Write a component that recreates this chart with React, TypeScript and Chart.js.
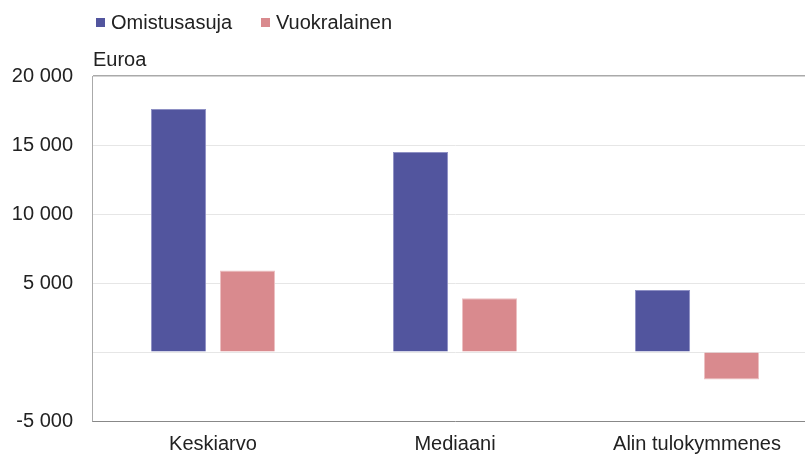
import React, { useEffect, useRef } from "react";
import { Chart, registerables } from "chart.js";

Chart.register(...registerables);

const categories = ["Keskiarvo", "Mediaani", "Alin tulokymmenes"];
const seriesNames = ["Omistusasuja", "Vuokralainen"];
const omistusasuja = [17600, 14500, 4500];
const vuokralainen = [5900, 3900, -2000];
const yTicks = [20000, 15000, 10000, 5000, 0, -5000];
const yUnit = "Euroa";
const colors = ["#52559e", "#d98a8e"];

const FONT = "'Liberation Sans', Arial, sans-serif";
const FS = 20;

function fmt(v: number): string {
  if (v === 0) return "";
  const s = String(Math.abs(v)).replace(/\B(?=(\d{3})+(?!\d))/g, " ");
  return (v < 0 ? "-" : "") + s;
}

const unitPlugin = {
  id: "unitLabel",
  afterDraw(chart: any) {
    const { ctx, chartArea } = chart;
    ctx.save();
    ctx.font = `${FS}px ${FONT}`;
    ctx.fillStyle = "#222";
    ctx.textAlign = "left";
    ctx.textBaseline = "middle";
    ctx.fillText(yUnit, chartArea.left + 1, chartArea.top - 16);
    ctx.restore();
  },
};

export default function App() {
  const ref = useRef<HTMLCanvasElement | null>(null);
  useEffect(() => {
    if (!ref.current) return;
    const chart = new Chart(ref.current, {
      type: "bar",
      data: {
        labels: categories,
        datasets: [
          {
            label: seriesNames[0],
            data: omistusasuja,
            backgroundColor: colors[0],
            borderColor: "#8e90c4",
            borderWidth: 1,
            categoryPercentage: 0.57,
            barPercentage: 0.8,
          },
          {
            label: seriesNames[1],
            data: vuokralainen,
            backgroundColor: colors[1],
            borderColor: "#ecc0c2",
            borderWidth: 1,
            categoryPercentage: 0.57,
            barPercentage: 0.8,
          },
        ],
      },
      options: {
        animation: false,
        responsive: false,
        maintainAspectRatio: false,
        layout: { padding: { top: 76, left: 0, right: 0, bottom: 0 } },
        plugins: {
          legend: { display: false },
          tooltip: { enabled: false },
          title: { display: false },
        },
        scales: {
          x: {
            afterFit(axis: any) {
              axis.height = 35;
            },
            grid: { display: false, drawTicks: false },
            border: { color: "#888", width: 1 },
            ticks: {
              color: "#222",
              font: { family: FONT, size: FS },
              padding: 11,
            },
          },
          y: {
            min: -5000,
            max: 20000,
            afterBuildTicks(axis: any) {
              axis.ticks = yTicks.map((v) => ({ value: v }));
            },
            afterFit(axis: any) {
              axis.width = 92;
            },
            grid: {
              drawTicks: false,
              color: (c: any) =>
                c.tick && c.tick.value === 20000
                  ? "#aaaaaa"
                  : c.tick && c.tick.value === -5000
                  ? "rgba(0,0,0,0)"
                  : "#e6e6e6",
              lineWidth: (c: any) => (c.tick && c.tick.value === 20000 ? 1.5 : 1),
            },
            border: { color: "#aaaaaa", width: 1 },
            ticks: {
              color: "#222",
              font: { family: FONT, size: FS },
              padding: 19,
              callback: (v: any) => fmt(Number(v)),
            },
          },
        },
      },
      plugins: [unitPlugin],
    });
    return () => chart.destroy();
  }, []);

  const legendItem = (name: string, color: string, left: number) => (
    <div
      key={name}
      style={{
        position: "absolute",
        left,
        top: 11,
        display: "flex",
        alignItems: "center",
        fontFamily: FONT,
        fontSize: FS,
        color: "#222",
        lineHeight: "22px",
        whiteSpace: "nowrap",
      }}
    >
      <span
        style={{
          display: "inline-block",
          width: 9,
          height: 9,
          background: color,
          marginRight: 6,
        }}
      />
      {name}
    </div>
  );

  return (
    <div
      style={{
        position: "absolute",
        left: 0,
        top: 0,
        width: 805,
        height: 456,
        background: "#fff",
        overflow: "hidden",
      }}
    >
      <canvas ref={ref} width={818} height={456} style={{ display: "block" }} />
      {legendItem(seriesNames[0], colors[0], 96)}
      {legendItem(seriesNames[1], colors[1], 261)}
    </div>
  );
}
